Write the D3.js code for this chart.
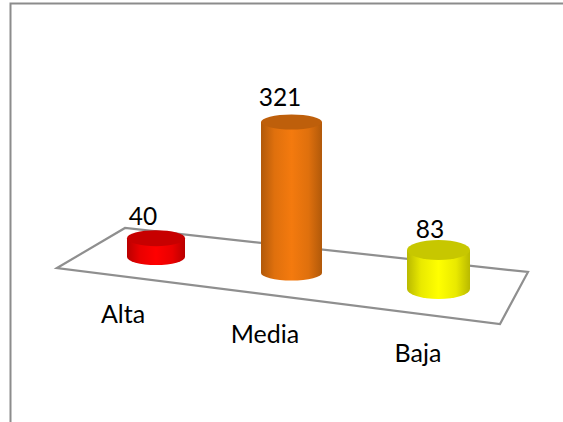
<!DOCTYPE html>
<html><head><meta charset="utf-8">
<script src="https://cdn.jsdelivr.net/npm/d3@7"></script>
<style>html,body{margin:0;padding:0;background:#fff}svg{display:block}text{font-family:Lato,"Open Sans",sans-serif;fill:#000}</style>
</head><body><script>
const categories = ["Alta","Media","Baja"];
const values = [40,321,83];
const colors = ["#ff0000","#f47a0e","#ffff00"];

const W=563,H=422;
const svg=d3.select("body").append("svg").attr("width",W).attr("height",H);
const defs=svg.append("defs");

// chart frame
svg.append("path").attr("d","M10.5,422V3.5H563").attr("fill","none").attr("stroke","#8c8c8c").attr("stroke-width",2);

// floor in perspective
const floor=[[57,268],[125,228],[528,272],[500,324]];
svg.append("path").attr("d",d3.line()(floor)+"Z").attr("fill","none").attr("stroke","#8f8f8f").attr("stroke-width",2.2).attr("stroke-linejoin","miter");

// perspective: each category has its own centre, base line and ellipse size
const cx=d3.scaleOrdinal(categories,[156,291.5,438.5]);
const baseY=d3.scaleOrdinal(categories,[257,273,289]);
const rx=d3.scaleOrdinal(categories,[29,30.5,31.5]);
const ry=d3.scaleOrdinal(categories,[8,7.5,10]);
const h=d3.scaleLinear().domain([0,321]).range([0,151]);
const labelX=d3.scaleOrdinal(categories,[123,265,418]);
const labelY=d3.scaleOrdinal(categories,[323,343,362]);
const valueX=d3.scaleOrdinal(categories,[143,280,430]);
const valueY=d3.scaleOrdinal(categories,[225,106,238]);

const data=categories.map((c,i)=>({c,v:values[i],col:colors[i],i}));
data.forEach(d=>{
  const base=d3.color(d.col);
  const g=defs.append("linearGradient").attr("id","side"+d.i);
  [[0,base.darker(0.9)],[0.22,base.darker(0.25)],[0.5,base],[0.78,base.darker(0.25)],[1,base.darker(0.9)]]
    .forEach(([o,c])=>g.append("stop").attr("offset",o).attr("stop-color",c));
});

const bars=svg.selectAll("g.bar").data(data).join("g").attr("class","bar");
bars.append("path").attr("fill",d=>`url(#side${d.i})`).attr("d",d=>{
  const x=cx(d.c),b=baseY(d.c),t=b-h(d.v),a=rx(d.c),e=ry(d.c);
  return `M${x-a},${t}L${x-a},${b}A${a},${e} 0 0 0 ${x+a},${b}L${x+a},${t}Z`;
});
bars.append("ellipse")
  .attr("cx",d=>cx(d.c)).attr("cy",d=>baseY(d.c)-h(d.v))
  .attr("rx",d=>rx(d.c)).attr("ry",d=>ry(d.c))
  .attr("fill",d=>d3.color(d.col).darker(0.7));

bars.append("text").attr("text-anchor","middle").attr("font-size",24.5)
  .attr("x",d=>valueX(d.c)).attr("y",d=>valueY(d.c)).text(d=>d.v);
svg.selectAll("text.cat").data(data).join("text").attr("class","cat")
  .attr("text-anchor","middle").attr("font-size",25)
  .attr("x",d=>labelX(d.c)).attr("y",d=>labelY(d.c)).text(d=>d.c);
</script></body></html>
